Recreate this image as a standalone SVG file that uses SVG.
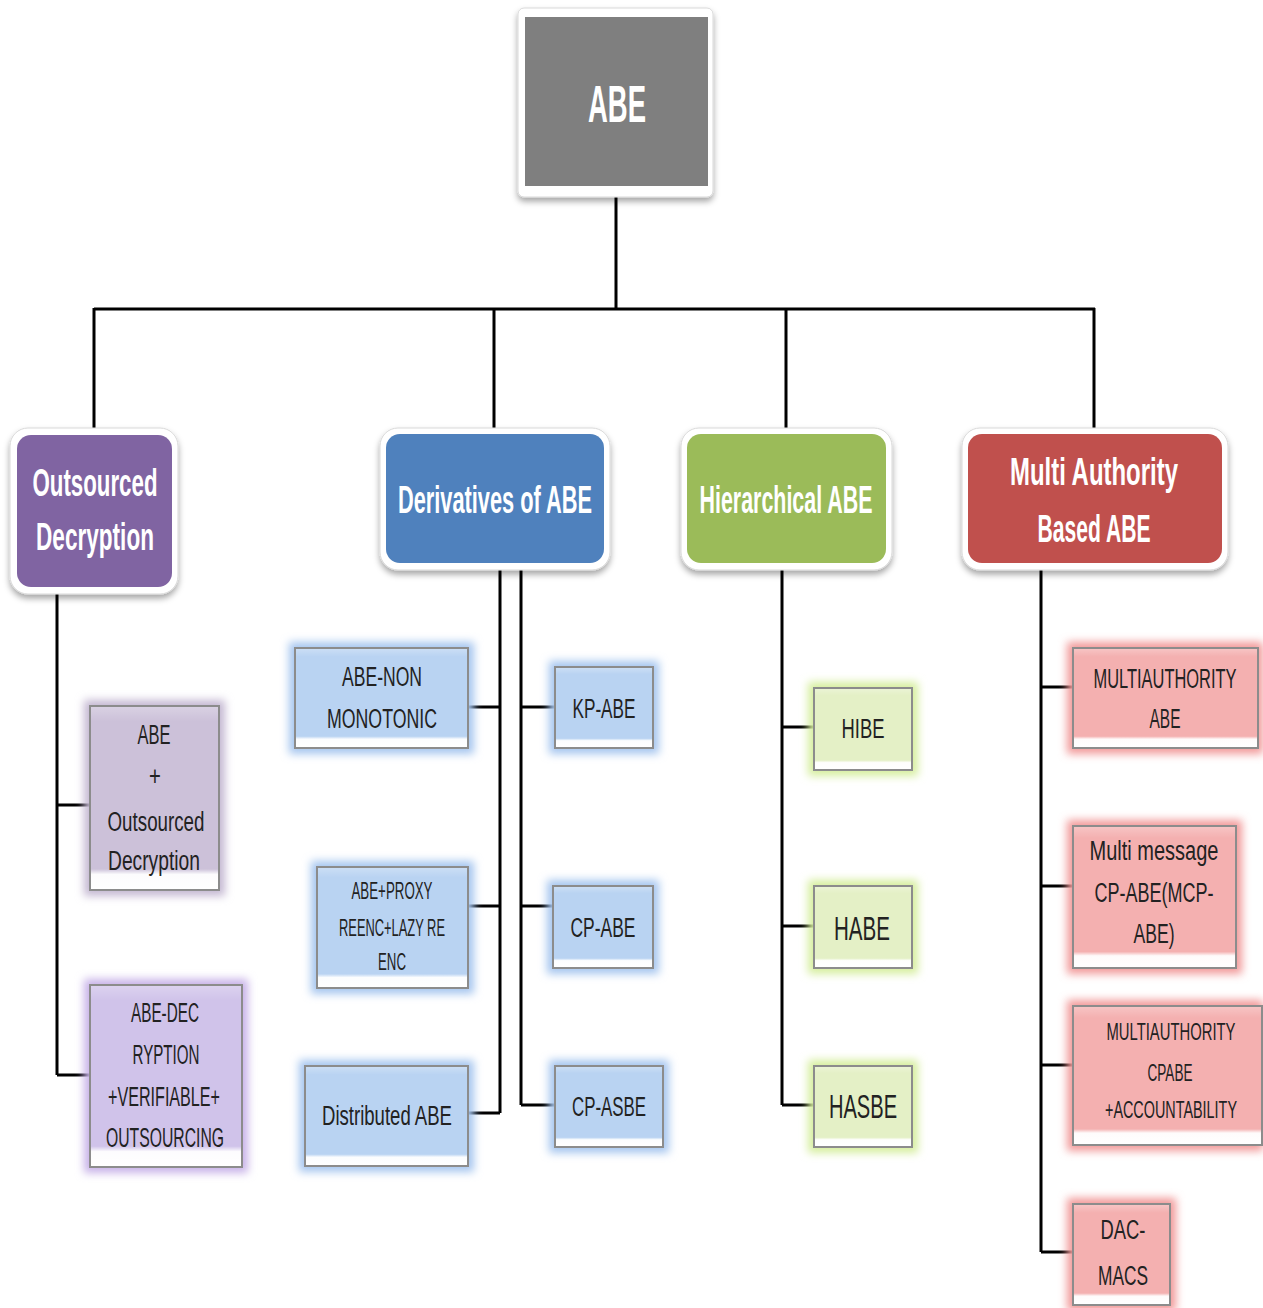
<svg xmlns="http://www.w3.org/2000/svg" width="1263" height="1308" viewBox="0 0 1263 1308">
<defs>
<filter id="shadow" x="-20%" y="-20%" width="140%" height="150%">
<feDropShadow dx="0" dy="4" stdDeviation="3" flood-color="#000" flood-opacity="0.35"/>
</filter>
<filter id="glow" x="-30%" y="-30%" width="160%" height="160%">
<feGaussianBlur stdDeviation="4"/>
</filter>
<linearGradient id="bevel" x1="0" y1="0" x2="0" y2="1">
<stop offset="0" stop-color="#fff" stop-opacity="0.25"/>
<stop offset="0.08" stop-color="#fff" stop-opacity="0"/>
<stop offset="0.89" stop-color="#fff" stop-opacity="0"/>
<stop offset="0.92" stop-color="#fff" stop-opacity="0.95"/>
<stop offset="1" stop-color="#fff" stop-opacity="1"/>
</linearGradient>
</defs>
<style>
.frame{fill:#fff;stroke:#d9d9d9;stroke-width:1;filter:url(#shadow)}
.main{font-family:'Liberation Sans Narrow','Liberation Sans',sans-serif;font-weight:bold;fill:#fff;text-anchor:middle}
.lbl{font-family:'Liberation Sans Narrow','Liberation Sans',sans-serif;fill:#222;text-anchor:middle}
.box{stroke:#8c8c8c;stroke-width:2}
.bev{fill:url(#bevel);stroke:none}
.conn{fill:none;stroke:#000;stroke-width:3}
.g-lav{fill:#c4b8d2}.f-lav{fill:#ccc1d9}
.g-pur{fill:#c8b2e8}.f-pur{fill:#d0c3ea}
.g-blu{fill:#a6c6ef}.f-blu{fill:#b9d3f2}
.g-grn{fill:#d6ee9e}.f-grn{fill:#e4f0c6}
.g-red{fill:#f29a9a}.f-red{fill:#f4b0b0}
</style>
<rect width="1263" height="1308" fill="#fff"/>

<g id="connectors">
<path class="conn" d="M616 190V309M94 309H1095M94 308V430M494 308V430M786 308V430M1094 308V430"/>
<path class="conn" d="M57 590V1075M57 805H90M57 1075H90"/>
<path class="conn" d="M500 568V1113M468 707H500M468 906H500M468 1113H500"/>
<path class="conn" d="M521 568V1105M521 707H555M521 906H555M521 1105H555"/>
<path class="conn" d="M782 568V1105M782 727H814M782 926H814M782 1105H814"/>
<path class="conn" d="M1041 568V1252M1041 687H1073M1041 886H1073M1041 1065H1073M1041 1252H1073"/>
</g>

<g id="n-abe">
<rect class="frame" x="518" y="8" width="195" height="189" rx="6"/>
<rect x="525" y="17" width="183" height="169" fill="#7f7f7f"/>
<text class="main" transform="scale(0.75,1)" x="822.67" y="122" font-size="52" textLength="77.3" lengthAdjust="spacingAndGlyphs">ABE</text>
</g>

<g id="n-outsourced">
<rect class="frame" x="10" y="428" width="168" height="166" rx="18"/>
<rect x="17" y="435" width="155" height="152" rx="14" fill="#8064a2"/>
<text class="main" transform="scale(0.75,1)" x="126.67" y="496" font-size="39" textLength="166.7" lengthAdjust="spacingAndGlyphs">Outsourced</text>
<text class="main" transform="scale(0.75,1)" x="126.67" y="550" font-size="39" textLength="157.3" lengthAdjust="spacingAndGlyphs">Decryption</text>
</g>

<g id="n-derivatives">
<rect class="frame" x="380" y="428" width="230" height="142" rx="18"/>
<rect x="386" y="434" width="218" height="129" rx="14" fill="#4f81bd"/>
<text class="main" transform="scale(0.75,1)" x="660" y="513" font-size="38" textLength="258.7" lengthAdjust="spacingAndGlyphs">Derivatives of ABE</text>
</g>

<g id="n-hierarchical">
<rect class="frame" x="681" y="428" width="211" height="142" rx="18"/>
<rect x="687" y="434" width="199" height="129" rx="14" fill="#9bbb59"/>
<text class="main" transform="scale(0.75,1)" x="1048" y="513" font-size="38" textLength="230.7" lengthAdjust="spacingAndGlyphs">Hierarchical ABE</text>
</g>

<g id="n-multi">
<rect class="frame" x="962" y="428" width="266" height="142" rx="18"/>
<rect x="968" y="434" width="254" height="129" rx="14" fill="#c0504d"/>
<text class="main" transform="scale(0.75,1)" x="1458.67" y="485" font-size="38" textLength="224" lengthAdjust="spacingAndGlyphs">Multi Authority</text>
<text class="main" transform="scale(0.75,1)" x="1458.67" y="542" font-size="38" textLength="150.7" lengthAdjust="spacingAndGlyphs">Based ABE</text>
</g>

<g id="n-abe-outsourced">
<rect class="g-lav" x="84" y="700" width="141" height="196" filter="url(#glow)"/>
<rect class="box f-lav" x="90" y="706" width="129" height="184"/>
<rect class="bev" x="91" y="707" width="127" height="182"/>
<text class="lbl" transform="scale(0.75,1)" x="205.33" y="744" font-size="27" textLength="44" lengthAdjust="spacingAndGlyphs">ABE</text>
<text class="lbl" transform="scale(0.75,1)" x="206.67" y="785" font-size="27">+</text>
<text class="lbl" transform="scale(0.75,1)" x="208" y="831" font-size="27" textLength="129.3" lengthAdjust="spacingAndGlyphs">Outsourced</text>
<text class="lbl" transform="scale(0.75,1)" x="205.33" y="870" font-size="27" textLength="122.7" lengthAdjust="spacingAndGlyphs">Decryption</text>
</g>

<g id="n-abe-dec">
<rect class="g-pur" x="84" y="979" width="164" height="194" filter="url(#glow)"/>
<rect class="box f-pur" x="90" y="985" width="152" height="182"/>
<rect class="bev" x="91" y="986" width="150" height="180"/>
<text class="lbl" transform="scale(0.75,1)" x="220" y="1022" font-size="27" textLength="90.7" lengthAdjust="spacingAndGlyphs">ABE-DEC</text>
<text class="lbl" transform="scale(0.75,1)" x="221.33" y="1064" font-size="27" textLength="89.3" lengthAdjust="spacingAndGlyphs">RYPTION</text>
<text class="lbl" transform="scale(0.75,1)" x="218.67" y="1106" font-size="27" textLength="149.3" lengthAdjust="spacingAndGlyphs">+VERIFIABLE+</text>
<text class="lbl" transform="scale(0.75,1)" x="220" y="1147" font-size="27" textLength="157.3" lengthAdjust="spacingAndGlyphs">OUTSOURCING</text>
</g>

<g id="n-abe-non">
<rect class="g-blu" x="289" y="642" width="185" height="112" filter="url(#glow)"/>
<rect class="box f-blu" x="295" y="648" width="173" height="100"/>
<rect class="bev" x="296" y="649" width="171" height="98"/>
<text class="lbl" transform="scale(0.75,1)" x="509.33" y="686" font-size="27" textLength="106.7" lengthAdjust="spacingAndGlyphs">ABE-NON</text>
<text class="lbl" transform="scale(0.75,1)" x="509.33" y="728" font-size="27" textLength="146.7" lengthAdjust="spacingAndGlyphs">MONOTONIC</text>
</g>

<g id="n-abe-proxy">
<rect class="g-blu" x="311" y="861" width="163" height="133" filter="url(#glow)"/>
<rect class="box f-blu" x="317" y="867" width="151" height="121"/>
<rect class="bev" x="318" y="868" width="149" height="119"/>
<text class="lbl" transform="scale(0.75,1)" x="522.67" y="899" font-size="23" textLength="108" lengthAdjust="spacingAndGlyphs">ABE+PROXY</text>
<text class="lbl" transform="scale(0.75,1)" x="522.67" y="936" font-size="23" textLength="141.3" lengthAdjust="spacingAndGlyphs">REENC+LAZY RE</text>
<text class="lbl" transform="scale(0.75,1)" x="522.67" y="970" font-size="23" textLength="37.3" lengthAdjust="spacingAndGlyphs">ENC</text>
</g>

<g id="n-distributed">
<rect class="g-blu" x="299" y="1060" width="175" height="112" filter="url(#glow)"/>
<rect class="box f-blu" x="305" y="1066" width="163" height="100"/>
<rect class="bev" x="306" y="1067" width="161" height="98"/>
<text class="lbl" transform="scale(0.75,1)" x="516" y="1125" font-size="27" textLength="173.3" lengthAdjust="spacingAndGlyphs">Distributed ABE</text>
</g>

<g id="n-kp-abe">
<rect class="g-blu" x="549" y="661" width="110" height="93" filter="url(#glow)"/>
<rect class="box f-blu" x="555" y="667" width="98" height="81"/>
<rect class="bev" x="556" y="668" width="96" height="79"/>
<text class="lbl" transform="scale(0.75,1)" x="805.33" y="718" font-size="27" textLength="84" lengthAdjust="spacingAndGlyphs">KP-ABE</text>
</g>

<g id="n-cp-abe">
<rect class="g-blu" x="547" y="880" width="112" height="94" filter="url(#glow)"/>
<rect class="box f-blu" x="553" y="886" width="100" height="82"/>
<rect class="bev" x="554" y="887" width="98" height="80"/>
<text class="lbl" transform="scale(0.75,1)" x="804" y="937" font-size="27" textLength="86.7" lengthAdjust="spacingAndGlyphs">CP-ABE</text>
</g>

<g id="n-cp-asbe">
<rect class="g-blu" x="549" y="1060" width="120" height="93" filter="url(#glow)"/>
<rect class="box f-blu" x="555" y="1066" width="108" height="81"/>
<rect class="bev" x="556" y="1067" width="106" height="79"/>
<text class="lbl" transform="scale(0.75,1)" x="812" y="1116" font-size="27" textLength="98.7" lengthAdjust="spacingAndGlyphs">CP-ASBE</text>
</g>

<g id="n-hibe">
<rect class="g-grn" x="808" y="682" width="110" height="94" filter="url(#glow)"/>
<rect class="box f-grn" x="814" y="688" width="98" height="82"/>
<rect class="bev" x="815" y="689" width="96" height="80"/>
<text class="lbl" transform="scale(0.75,1)" x="1150.67" y="738" font-size="27" textLength="57.3" lengthAdjust="spacingAndGlyphs">HIBE</text>
</g>

<g id="n-habe">
<rect class="g-grn" x="808" y="880" width="110" height="94" filter="url(#glow)"/>
<rect class="box f-grn" x="814" y="886" width="98" height="82"/>
<rect class="bev" x="815" y="887" width="96" height="80"/>
<text class="lbl" transform="scale(0.75,1)" x="1149.33" y="940" font-size="33" textLength="74.7" lengthAdjust="spacingAndGlyphs">HABE</text>
</g>

<g id="n-hasbe">
<rect class="g-grn" x="808" y="1060" width="110" height="93" filter="url(#glow)"/>
<rect class="box f-grn" x="814" y="1066" width="98" height="81"/>
<rect class="bev" x="815" y="1067" width="96" height="79"/>
<text class="lbl" transform="scale(0.75,1)" x="1150.67" y="1118" font-size="33" textLength="90.7" lengthAdjust="spacingAndGlyphs">HASBE</text>
</g>

<g id="n-multiauth-abe">
<rect class="g-red" x="1067" y="642" width="196" height="112" filter="url(#glow)"/>
<rect class="box f-red" x="1073" y="648" width="185" height="100"/>
<rect class="bev" x="1074" y="649" width="183" height="98"/>
<text class="lbl" transform="scale(0.68,1)" x="1713.24" y="688" font-size="27" textLength="210.3" lengthAdjust="spacingAndGlyphs">MULTIAUTHORITY</text>
<text class="lbl" transform="scale(0.75,1)" x="1553.33" y="728" font-size="27" textLength="41.3" lengthAdjust="spacingAndGlyphs">ABE</text>
</g>

<g id="n-mcp-abe">
<rect class="g-red" x="1067" y="820" width="175" height="154" filter="url(#glow)"/>
<rect class="box f-red" x="1073" y="826" width="163" height="142"/>
<rect class="bev" x="1074" y="827" width="161" height="140"/>
<text class="lbl" transform="scale(0.75,1)" x="1538.67" y="860" font-size="27" textLength="172" lengthAdjust="spacingAndGlyphs">Multi message</text>
<text class="lbl" transform="scale(0.75,1)" x="1538.67" y="902" font-size="27" textLength="158.7" lengthAdjust="spacingAndGlyphs">CP-ABE(MCP-</text>
<text class="lbl" transform="scale(0.75,1)" x="1538.67" y="943" font-size="27" textLength="54.7" lengthAdjust="spacingAndGlyphs">ABE)</text>
</g>

<g id="n-multiauth-cpabe">
<rect class="g-red" x="1067" y="1000" width="196" height="151" filter="url(#glow)"/>
<rect class="box f-red" x="1073" y="1006" width="189" height="139"/>
<rect class="bev" x="1074" y="1007" width="187" height="137"/>
<text class="lbl" transform="scale(0.75,1)" x="1561.33" y="1040" font-size="23" textLength="172" lengthAdjust="spacingAndGlyphs">MULTIAUTHORITY</text>
<text class="lbl" transform="scale(0.75,1)" x="1560" y="1081" font-size="23" textLength="60" lengthAdjust="spacingAndGlyphs">CPABE</text>
<text class="lbl" transform="scale(0.75,1)" x="1561.33" y="1118" font-size="23" textLength="176" lengthAdjust="spacingAndGlyphs">+ACCOUNTABILITY</text>
</g>

<g id="n-dac-macs">
<rect class="g-red" x="1067" y="1198" width="109" height="113" filter="url(#glow)"/>
<rect class="box f-red" x="1073" y="1204" width="97" height="101"/>
<rect class="bev" x="1074" y="1205" width="95" height="99"/>
<text class="lbl" transform="scale(0.75,1)" x="1497.33" y="1239" font-size="27" textLength="60" lengthAdjust="spacingAndGlyphs">DAC-</text>
<text class="lbl" transform="scale(0.75,1)" x="1497.33" y="1285" font-size="27" textLength="66.7" lengthAdjust="spacingAndGlyphs">MACS</text>
</g>
</svg>
